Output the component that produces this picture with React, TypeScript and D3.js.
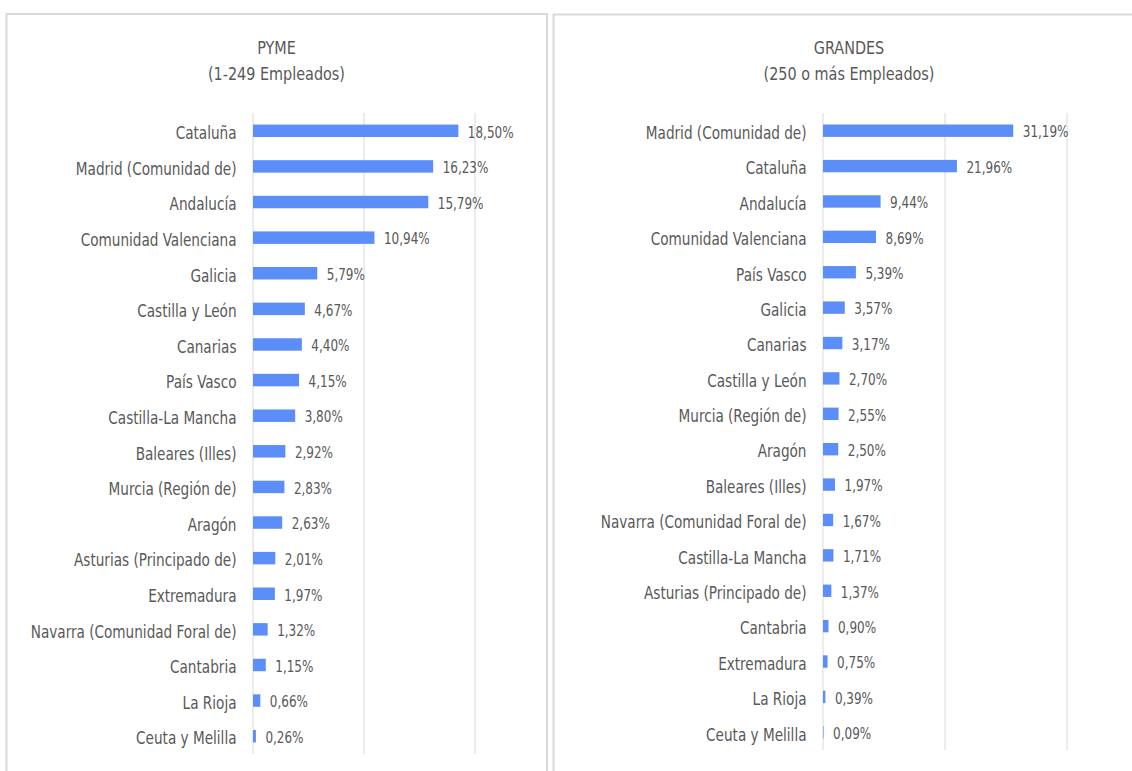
import React from "react";
import * as d3 from "d3";

// ---------- DATA ----------
const pymeCategories = [
  "Cataluña",
  "Madrid (Comunidad de)",
  "Andalucía",
  "Comunidad Valenciana",
  "Galicia",
  "Castilla y León",
  "Canarias",
  "País Vasco",
  "Castilla-La Mancha",
  "Baleares (Illes)",
  "Murcia (Región de)",
  "Aragón",
  "Asturias (Principado de)",
  "Extremadura",
  "Navarra (Comunidad Foral de)",
  "Cantabria",
  "La Rioja",
  "Ceuta y Melilla",
];
const pymeValues = [18.5, 16.23, 15.79, 10.94, 5.79, 4.67, 4.4, 4.15, 3.8, 2.92, 2.83, 2.63, 2.01, 1.97, 1.32, 1.15, 0.66, 0.26];
const pymeTicks = [0, 10, 20];

const grandesCategories = [
  "Madrid (Comunidad de)",
  "Cataluña",
  "Andalucía",
  "Comunidad Valenciana",
  "País Vasco",
  "Galicia",
  "Canarias",
  "Castilla y León",
  "Murcia (Región de)",
  "Aragón",
  "Baleares (Illes)",
  "Navarra (Comunidad Foral de)",
  "Castilla-La Mancha",
  "Asturias (Principado de)",
  "Cantabria",
  "Extremadura",
  "La Rioja",
  "Ceuta y Melilla",
];
const grandesValues = [31.19, 21.96, 9.44, 8.69, 5.39, 3.57, 3.17, 2.7, 2.55, 2.5, 1.97, 1.67, 1.71, 1.37, 0.9, 0.75, 0.39, 0.09];
const grandesTicks = [0, 20, 40];

const pymeTitle = ["PYME", "(1-249 Empleados)"];
const grandesTitle = ["GRANDES", "(250 o más Empleados)"];

// ---------- STYLE ----------
const BAR = "#5B8EF8";
const GRID = "#D9D9D9";
const TEXT = "#595959";
const COND = "'DejaVu Sans Condensed', 'Liberation Sans Narrow', sans-serif";
const SQUEEZE = 0.89;

const fmt = (v: number) => v.toFixed(2).replace(".", ",") + "%";

type PanelProps = {
  frame: { x0: number; x1: number; y0: number };
  plot: { x0: number; x1: number; y0: number; y1: number };
  title: string[];
  titleX: number;
  categories: string[];
  values: number[];
  ticks: number[];
};

function Panel({ frame, plot, title, titleX, categories, values, ticks }: PanelProps) {
  const x = d3
    .scaleLinear()
    .domain([ticks[0], ticks[ticks.length - 1]])
    .range([plot.x0, plot.x1]);
  const y = d3
    .scaleBand<string>()
    .domain(categories)
    .range([plot.y0, plot.y1])
    .paddingInner(0.65)
    .paddingOuter(0.325);
  const bw = y.bandwidth();
  return (
    <g>
      <path
        d={`M${frame.x0},800 L${frame.x0},${frame.y0} L${frame.x1},${frame.y0} L${frame.x1},800`}
        fill="none"
        stroke={GRID}
        strokeWidth={2}
      />
      {title.map((t, i) => (
        <text
          key={t}
          transform={`translate(${titleX},${i === 0 ? 54 : 80}) scale(${SQUEEZE},1)`}
          textAnchor="middle"
          fontFamily={COND}
          fontSize={18}
          fill={TEXT}
        >
          {t}
        </text>
      ))}
      {ticks.map((t) => (
        <line key={t} x1={x(t)} x2={x(t)} y1={plot.y0} y2={plot.y1} stroke={GRID} strokeWidth={1} />
      ))}
      {categories.map((c, i) => {
        const yc = (y(c) as number) + bw / 2;
        return (
          <g key={c}>
            <rect x={x(0)} y={yc - bw / 2} width={Math.max(0, x(values[i]) - x(0))} height={bw} fill={BAR} />
            <text
              transform={`translate(${plot.x0 - 16.5},${yc + 8.3}) scale(${SQUEEZE},1)`}
              textAnchor="end"
              fontFamily={COND}
              fontSize={17}
              fill={TEXT}
            >
              {c}
            </text>
            <text
              transform={`translate(${x(values[i]) + 9.5},${yc + 6.8}) scale(${SQUEEZE},1)`}
              fontFamily={COND}
              fontSize={15}
              fill={TEXT}
            >
              {fmt(values[i])}
            </text>
          </g>
        );
      })}
    </g>
  );
}

export default function App() {
  return (
    <svg
      width={1132}
      height={771}
      style={{ position: "fixed", left: 0, top: 0, background: "#fff" }}
    >
      <rect width={1132} height={771} fill="#fff" />
      <Panel
        frame={{ x0: 6.5, x1: 547, y0: 14 }}
        plot={{ x0: 253, x1: 475, y0: 113, y1: 754 }}
        title={pymeTitle}
        titleX={276.5}
        categories={pymeCategories}
        values={pymeValues}
        ticks={pymeTicks}
      />
      <Panel
        frame={{ x0: 553.5, x1: 1145, y0: 14.5 }}
        plot={{ x0: 823, x1: 1067, y0: 113, y1: 750 }}
        title={grandesTitle}
        titleX={849}
        categories={grandesCategories}
        values={grandesValues}
        ticks={grandesTicks}
      />
    </svg>
  );
}
